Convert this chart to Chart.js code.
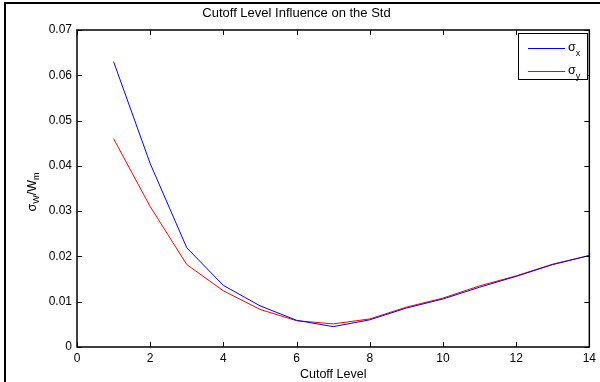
<!DOCTYPE html>
<html>
<head>
<meta charset="utf-8">
<script src="https://cdn.jsdelivr.net/npm/chart.js@4/dist/chart.umd.min.js"></script>
<style>
  html, body { margin: 0; padding: 0; background: #fff; }
  #wrap { width: 600px; height: 382px; position: relative; }
</style>
</head>
<body>
<div id="wrap"><canvas id="chart" width="600" height="382"></canvas></div>
<script>
// Cutoff level vs. normalised std
const cutoffLevels = [1, 2, 3, 4, 5, 6, 7, 8, 9, 10, 11, 12, 13, 14];
const sigmaX = [0.0630, 0.0405, 0.0219, 0.0136, 0.0091, 0.0059, 0.0045, 0.0060, 0.0086, 0.0106, 0.0132, 0.0156, 0.0182, 0.0202];
const sigmaY = [0.0460, 0.0310, 0.0182, 0.0124, 0.0083, 0.0058, 0.0051, 0.0062, 0.0088, 0.0108, 0.0135, 0.0157, 0.0183, 0.0202];
const xTicks = [0, 2, 4, 6, 8, 10, 12, 14];
const yTicks = [0, 0.01, 0.02, 0.03, 0.04, 0.05, 0.06, 0.07];

const FONT = 'Helvetica, "Liberation Sans", Arial, sans-serif';

// Frame, inward ticks, y label and legend (MATLAB look)
const matlabBox = {
  id: 'matlabBox',
  afterDraw(chart) {
    const ctx = chart.ctx;
    const a = chart.chartArea;
    const xs = chart.scales.x, ys = chart.scales.y;
    ctx.save();

    // outer figure frame (top and left only)
    ctx.fillStyle = '#000';
    ctx.fillRect(4, 2, 2, 380);
    ctx.fillRect(4, 2, 596, 2);

    // axes box
    ctx.strokeStyle = '#000';
    ctx.lineWidth = 1.5;
    ctx.strokeRect(a.left, a.top, a.right - a.left, a.bottom - a.top);

    // inward ticks
    ctx.lineWidth = 1;
    ctx.beginPath();
    xTicks.forEach(v => {
      const px = Math.round(xs.getPixelForValue(v)) + 0.5;
      ctx.moveTo(px, a.bottom); ctx.lineTo(px, a.bottom - 5);
      ctx.moveTo(px, a.top); ctx.lineTo(px, a.top + 5);
    });
    yTicks.forEach(v => {
      const py = Math.round(ys.getPixelForValue(v)) + 0.5;
      ctx.moveTo(a.left, py); ctx.lineTo(a.left + 5, py);
      ctx.moveTo(a.right, py); ctx.lineTo(a.right - 5, py);
    });
    ctx.stroke();

    // y axis label: sigma_W / W_m
    ctx.fillStyle = '#000';
    ctx.textBaseline = 'alphabetic';
    const big = '12.5px ' + FONT, small = '9px ' + FONT;
    const parts = [['σ', big, 0], ['W', small, 3], ['/W', big, 0], ['m', small, 3]];
    let total = 0;
    parts.forEach(p => { ctx.font = p[1]; total += ctx.measureText(p[0]).width; });
    ctx.translate(36, 192);
    ctx.rotate(-Math.PI / 2);
    let cx = -total / 2;
    parts.forEach(p => {
      ctx.font = p[1];
      ctx.fillText(p[0], cx, p[2]);
      cx += ctx.measureText(p[0]).width;
    });
    ctx.setTransform(1, 0, 0, 1, 0, 0);

    // legend
    const lx = 518, ly = 33, lw = 69, lh = 46;
    ctx.fillStyle = '#fff';
    ctx.fillRect(lx, ly, lw, lh);
    ctx.strokeStyle = '#000';
    ctx.lineWidth = 1;
    ctx.strokeRect(lx + 0.5, ly + 0.5, lw, lh);
    const entries = [['x', '#0000ff', 48], ['y', '#ff0000', 71]];
    entries.forEach(e => {
      ctx.fillStyle = e[1];
      ctx.fillRect(528, e[2], 37, 1);
      ctx.fillStyle = '#000';
      ctx.font = big;
      ctx.fillText('σ', 568, e[2] + 3);
      const w = ctx.measureText('σ').width;
      ctx.font = small;
      ctx.fillText(e[0], 568 + w, e[2] + 8);
    });
    ctx.restore();
  }
};

new Chart(document.getElementById('chart'), {
  type: 'line',
  data: {
    datasets: [
      {
        label: 'σx',
        data: cutoffLevels.map((x, i) => ({ x: x, y: sigmaX[i] })),
        borderColor: '#0000ff',
        borderWidth: 1,
        pointRadius: 0,
        tension: 0
      },
      {
        label: 'σy',
        data: cutoffLevels.map((x, i) => ({ x: x, y: sigmaY[i] })),
        borderColor: '#ff0000',
        borderWidth: 1,
        pointRadius: 0,
        tension: 0
      }
    ]
  },
  options: {
    responsive: false,
    animation: false,
    events: [],
    layout: { padding: { left: 0, right: 7, top: 0, bottom: 0 } },
    plugins: {
      legend: { display: false },
      tooltip: { enabled: false },
      title: {
        display: true,
        text: 'Cutoff Level Influence on the Std',
        color: '#000',
        font: { family: FONT, size: 13, weight: 'normal', lineHeight: 1.2 },
        padding: { top: 6, bottom: 8.4 }
      }
    },
    scales: {
      x: {
        type: 'linear',
        min: 0,
        max: 14,
        afterBuildTicks: s => { s.ticks = xTicks.map(v => ({ value: v })); },
        afterFit: s => { s.height = 35; },
        grid: { display: false, drawTicks: false },
        border: { display: false },
        ticks: {
          color: '#000',
          padding: 4,
          font: { family: FONT, size: 12 },
          callback: v => String(v)
        },
        title: {
          display: true,
          text: 'Cutoff Level',
          color: '#000',
          padding: { top: 0, bottom: 0 },
          font: { family: FONT, size: 12.5 }
        }
      },
      y: {
        min: 0,
        max: 0.07,
        afterBuildTicks: s => { s.ticks = yTicks.map(v => ({ value: v })); },
        afterFit: s => { s.width = 77; },
        grid: { display: false, drawTicks: false },
        border: { display: false },
        ticks: {
          color: '#000',
          padding: 5,
          font: { family: FONT, size: 12 },
          callback: v => (v === 0 ? '0' : v.toFixed(2))
        }
      }
    }
  },
  plugins: [matlabBox]
});
</script>
</body>
</html>
